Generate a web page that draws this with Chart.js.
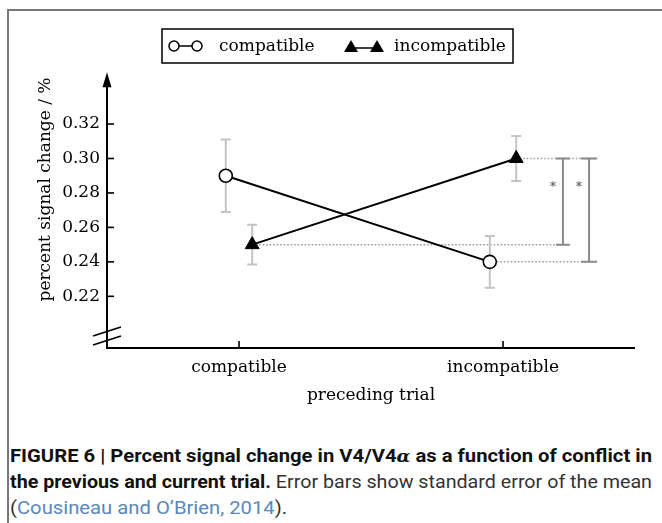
<!DOCTYPE html>
<html><head><meta charset="utf-8">
<script src="https://cdn.jsdelivr.net/npm/chart.js@4.4.1/dist/chart.umd.min.js"></script>
<style>
html,body{margin:0;padding:0;background:#fff;}
#wrap{position:relative;width:662px;height:523px;overflow:hidden;background:#fff;}
#frame{position:absolute;left:7px;top:9px;width:700px;height:600px;border-left:2px solid #777;border-top:2px solid #777;}
#c{position:absolute;left:0;top:0;}
.cap{position:absolute;left:10px;white-space:nowrap;font-family:Roboto,'Liberation Sans',sans-serif;font-size:19px;line-height:22px;transform-origin:0 50%;color:#222;}
.cap b{color:#111;font-weight:700;}
.cap .n{color:#333;}
.cap .lnk{color:#5b87b9;}
.cap .al{font-family:'DejaVu Serif',serif;font-style:italic;font-weight:700;font-size:17px;}
</style></head>
<body><div id="wrap"><div id="frame"></div><canvas id="c" width="662" height="420"></canvas>
<div class="cap" id="l1" style="top:445px"><b>FIGURE 6 | Percent signal change in V4/V4<span class="al">α</span> as a function of conflict in</b></div>
<div class="cap" id="l2" style="top:471px"><b>the previous and current trial.</b><span class="n"> Error bars show standard error of the mean</span></div>
<div class="cap" id="l3" style="top:497px"><span class="n">(</span><span class="lnk">Cousineau and O’Brien, 2014</span><span class="n">).</span></div>
</div>
<script>
// ---- data ----
const categories = ['compatible', 'incompatible'];
const seriesNames = ['compatible', 'incompatible'];
const compatibleMeans = [0.29, 0.24];
const compatibleErrors = [0.021, 0.015];
const incompatibleMeans = [0.25, 0.30];
const incompatibleErrors = [0.0115, 0.013];
const yTickValues = [0.22, 0.24, 0.26, 0.28, 0.30, 0.32];
const xTitle = 'preceding trial';
const yTitle = 'percent signal change / %';
// significance brackets: [top value, bottom value]
const bracketTops = [0.30, 0.30];
const bracketBottoms = [0.25, 0.24];
const bracketLabels = ['*', '*'];

const SERIF = "'DejaVu Serif', serif";
const seriesOffset = [-0.05, 0.05];
const bracketX = [1.227, 1.326];
const yMin = 0.19, yMax = 0.374, yArrowTop = 0.35;

function pts(means, off) { return means.map((m, i) => ({x: i + off, y: m})); }

const datasets = [
  {label: seriesNames[0], data: pts(compatibleMeans, seriesOffset[0]), errors: compatibleErrors,
   showLine: true, borderColor: '#000', borderWidth: 2, pointStyle: 'circle', pointRadius: 6.5,
   pointBackgroundColor: '#fff', pointBorderColor: '#000', pointBorderWidth: 1.6, order: 2},
  {label: seriesNames[1], data: pts(incompatibleMeans, seriesOffset[1]), errors: incompatibleErrors,
   showLine: true, borderColor: '#000', borderWidth: 2, pointStyle: 'triangle', pointRadius: 8,
   pointBackgroundColor: '#000', pointBorderColor: '#000', pointBorderWidth: 1, order: 1}
];

const decor = {
  id: 'decor',
  beforeDatasetsDraw(chart) {
    const ctx = chart.ctx, xs = chart.scales.x, ys = chart.scales.y;
    ctx.save();
    // dotted reference lines
    ctx.strokeStyle = '#999'; ctx.lineWidth = 1.5; ctx.setLineDash([1.5, 2]);
    const dot = (xv, yv, xEnd, cap) => {
      ctx.beginPath();
      ctx.moveTo(xs.getPixelForValue(xv), ys.getPixelForValue(yv));
      ctx.lineTo(xs.getPixelForValue(xEnd) + cap, ys.getPixelForValue(yv));
      ctx.stroke();
    };
    dot(1 + seriesOffset[1], incompatibleMeans[1], bracketX[1], 8);
    dot(0 + seriesOffset[1], incompatibleMeans[0], bracketX[0], 7);
    dot(1 + seriesOffset[0], compatibleMeans[1], bracketX[1], 8);
    ctx.setLineDash([]);
    // brackets
    ctx.strokeStyle = '#8a8a8a'; ctx.lineWidth = 2;
    bracketX.forEach((bx, k) => {
      const px = xs.getPixelForValue(bx), yt = ys.getPixelForValue(bracketTops[k]), yb = ys.getPixelForValue(bracketBottoms[k]);
      const hw = k === 0 ? 7 : 8;
      ctx.beginPath();
      ctx.moveTo(px - hw, yt); ctx.lineTo(px + hw, yt);
      ctx.moveTo(px, yt); ctx.lineTo(px, yb);
      ctx.moveTo(px - hw, yb); ctx.lineTo(px + hw, yb);
      ctx.stroke();
      ctx.fillStyle = '#444'; ctx.font = '12px ' + SERIF; ctx.textAlign = 'center'; ctx.textBaseline = 'middle';
      ctx.fillText(bracketLabels[k], px - 10, yt + 29);
    });
    // error bars
    ctx.strokeStyle = '#c4c4c4'; ctx.lineWidth = 2;
    chart.data.datasets.forEach(ds => {
      ds.data.forEach((p, i) => {
        const px = xs.getPixelForValue(p.x);
        const yt = ys.getPixelForValue(p.y + ds.errors[i]), yb = ys.getPixelForValue(p.y - ds.errors[i]);
        ctx.beginPath();
        ctx.moveTo(px, yt); ctx.lineTo(px, yb);
        ctx.moveTo(px - 5, yt); ctx.lineTo(px + 5, yt);
        ctx.moveTo(px - 5, yb); ctx.lineTo(px + 5, yb);
        ctx.stroke();
      });
    });
    ctx.restore();
  },
  afterDraw(chart) {
    const ctx = chart.ctx, xs = chart.scales.x, ys = chart.scales.y, ca = chart.chartArea;
    ctx.save();
    ctx.strokeStyle = '#000'; ctx.fillStyle = '#000'; ctx.lineWidth = 2;
    const ax = ca.left, by = ys.getPixelForValue(yMin), ty = ys.getPixelForValue(yArrowTop);
    // y axis with arrow
    ctx.beginPath(); ctx.moveTo(ax, by); ctx.lineTo(ax, ty + 10); ctx.stroke();
    ctx.beginPath(); ctx.moveTo(ax, ty); ctx.lineTo(ax - 4.5, ty + 15); ctx.lineTo(ax + 4.5, ty + 15); ctx.closePath(); ctx.fill();
    // x axis
    ctx.beginPath(); ctx.moveTo(ax - 1, by); ctx.lineTo(ca.right, by); ctx.stroke();
    // inward ticks
    ctx.lineWidth = 1.6;
    yTickValues.forEach(v => { const y = ys.getPixelForValue(v); ctx.beginPath(); ctx.moveTo(ax, y); ctx.lineTo(ax + 7, y); ctx.stroke(); });
    categories.forEach((c, i) => { const x = xs.getPixelForValue(i); ctx.beginPath(); ctx.moveTo(x, by); ctx.lineTo(x, by - 7); ctx.stroke(); });
    // axis break
    ctx.lineWidth = 1.8;
    [16.5, 7.5].forEach(d => { ctx.beginPath(); ctx.moveTo(ax - 14, by - d + 4.5); ctx.lineTo(ax + 14, by - d - 4.5); ctx.stroke(); });
    // legend
    const L = 162, T = 29, R = 513, B = 63, cy = 46;
    ctx.lineWidth = 1.5; ctx.strokeRect(L, T, R - L, B - T);
    ctx.font = '17px ' + SERIF; ctx.textAlign = 'left'; ctx.textBaseline = 'middle'; ctx.fillStyle = '#000';
    // item 1
    ctx.beginPath(); ctx.moveTo(174, cy); ctx.lineTo(197, cy); ctx.stroke();
    [174, 197].forEach(x => { ctx.beginPath(); ctx.arc(x, cy, 5, 0, Math.PI * 2); ctx.fillStyle = '#fff'; ctx.fill(); ctx.stroke(); });
    ctx.fillStyle = '#000';
    ctx.fillText(chart.data.datasets[0].label, 219, cy + 1);
    // item 2
    ctx.beginPath(); ctx.moveTo(351, cy + 2); ctx.lineTo(377, cy + 2); ctx.stroke();
    [351, 377].forEach(x => { ctx.beginPath(); ctx.moveTo(x, cy - 6); ctx.lineTo(x - 7, cy + 6); ctx.lineTo(x + 7, cy + 6); ctx.closePath(); ctx.fill(); });
    ctx.fillText(chart.data.datasets[1].label, 394, cy + 1);
    ctx.restore();
  }
};

new Chart(document.getElementById('c'), {
  type: 'scatter',
  data: {datasets},
  options: {
    responsive: false, animation: false, devicePixelRatio: 1,
    layout: {padding: {top: 31, left: 0, right: 27, bottom: 0}},
    plugins: {legend: {display: false}, tooltip: {enabled: false}},
    scales: {
      x: {
        type: 'linear', min: -0.5, max: 1.5,
        afterBuildTicks: s => { s.ticks = categories.map((c, i) => ({value: i})); },
        ticks: {callback: v => categories[v], color: '#000', font: {family: SERIF, size: 17}, padding: 9, maxRotation: 0, autoSkip: false},
        grid: {display: false, drawTicks: false}, border: {display: false},
        title: {display: true, text: xTitle, color: '#000', font: {family: SERIF, size: 17}, padding: {top: 8, bottom: 14}},
        afterFit: s => { s.height = 72; }
      },
      y: {
        type: 'linear', min: yMin, max: yMax,
        afterBuildTicks: s => { s.ticks = yTickValues.map(v => ({value: v})); },
        ticks: {callback: v => v.toFixed(2), color: '#000', font: {family: SERIF, size: 17}, padding: 7},
        grid: {display: false, drawTicks: false}, border: {display: false},
        title: {display: true, text: yTitle, color: '#000', font: {family: SERIF, size: 17}, padding: {top: 35, bottom: 0}},
        afterFit: s => { s.width = 107; }
      }
    }
  },
  plugins: [decor]
});

// fit caption lines to the justified width
['l1', 'l2'].forEach(id => {
  const el = document.getElementById(id);
  const w = el.getBoundingClientRect().width;
  el.style.transform = 'scaleX(' + (642 / w) + ')';
});
(function () {
  const el = document.getElementById('l3');
  const w1 = document.getElementById('l1');
  const s = w1.style.transform; el.style.transform = s;
})();
</script>
</body></html>
